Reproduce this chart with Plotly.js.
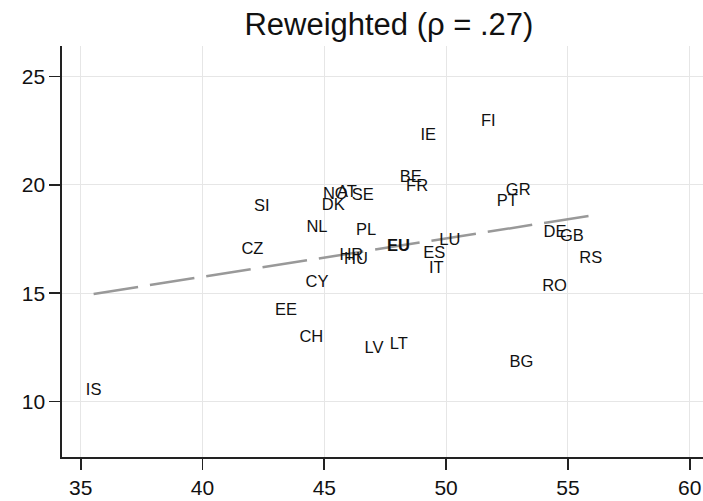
<!DOCTYPE html>
<html>
<head>
<meta charset="utf-8">
<script src="https://cdn.plot.ly/plotly-3.0.1.min.js"></script>
<style>html,body{margin:0;padding:0;background:#fff;}#chart{width:703px;height:501px;}</style>
</head>
<body>
<div id="chart"></div>
<script>
// Country labels and their coordinates
const countries = ["IS","EE","CH","CY","LV","LT","IT","SI","CZ","NL","DK","NO","AT","SE","BE","FR","PL","HR","HU","LU","ES","IE","FI","GR","PT","DE","GB","RS","RO","BG"];
const xValues = [35.53,43.43,44.47,44.70,47.04,48.06,49.60,42.43,42.05,44.70,45.37,45.45,45.93,46.58,48.55,48.81,46.72,46.11,46.30,50.15,49.51,49.27,51.73,52.96,52.51,54.47,55.16,55.94,54.45,53.09];
const yValues = [10.51,14.18,12.96,15.49,12.44,12.61,16.13,18.98,17.02,18.04,19.04,19.56,19.63,19.51,20.33,19.91,17.86,16.72,16.55,17.40,16.81,22.26,22.92,19.71,19.20,17.80,17.61,16.57,15.28,11.80];
// EU aggregate
const euLabel = ["EU"];
const euX = [48.04];
const euY = [17.15];
// Fitted line endpoints
const fitX = [35.53, 55.85];
const fitY = [14.97, 18.57];
// Ticks
const xTicks = [35,40,45,50,55,60];
const yTicks = [10,15,20,25];

const FONT = "Liberation Sans, Arial, Helvetica, sans-serif";

const traces = [
  {
    x: fitX, y: fitY, type: "scatter", mode: "lines",
    line: {color: "#999999", width: 2.5, dash: "45px,12px"},
    hoverinfo: "skip", showlegend: false
  },
  {
    x: xValues, y: yValues, text: countries, type: "scatter", mode: "text",
    textposition: "middle center",
    textfont: {family: FONT, size: 16.5, color: "#111111"},
    showlegend: false
  },
  {
    x: euX, y: euY, text: euLabel.map(s => "<b>" + s + "</b>"), type: "scatter", mode: "text",
    textposition: "middle center",
    textfont: {family: FONT, size: 16.5, color: "#111111"},
    showlegend: false
  }
];

const axisCommon = {
  showline: true, linecolor: "#222222", linewidth: 1.6,
  ticks: "outside", ticklen: 11, tickwidth: 1.6, tickcolor: "#222222",
  showgrid: true, gridcolor: "#e6e6e6", gridwidth: 1,
  zeroline: false, mirror: false,
  tickfont: {family: FONT, size: 21, color: "#111111"}
};

const layout = {
  width: 703, height: 501,
  margin: {l: 62, r: 0, t: 46, b: 44, pad: 0},
  paper_bgcolor: "#ffffff", plot_bgcolor: "#ffffff",
  title: {
    text: "Reweighted (ρ = .27)",
    font: {family: FONT, size: 31, color: "#111111"},
    x: 0.51, xref: "paper", xanchor: "center",
    y: 0.952, yref: "container", yanchor: "middle"
  },
  xaxis: Object.assign({}, axisCommon, {
    range: [34.232, 60.546], tickvals: xTicks, ticktext: xTicks.map(String)
  }),
  yaxis: Object.assign({}, axisCommon, {
    range: [7.446, 26.412], tickvals: yTicks, ticktext: yTicks.map(String)
  }),
  showlegend: false
};

Plotly.newPlot("chart", traces, layout, {displayModeBar: false, staticPlot: true});
</script>
</body>
</html>
